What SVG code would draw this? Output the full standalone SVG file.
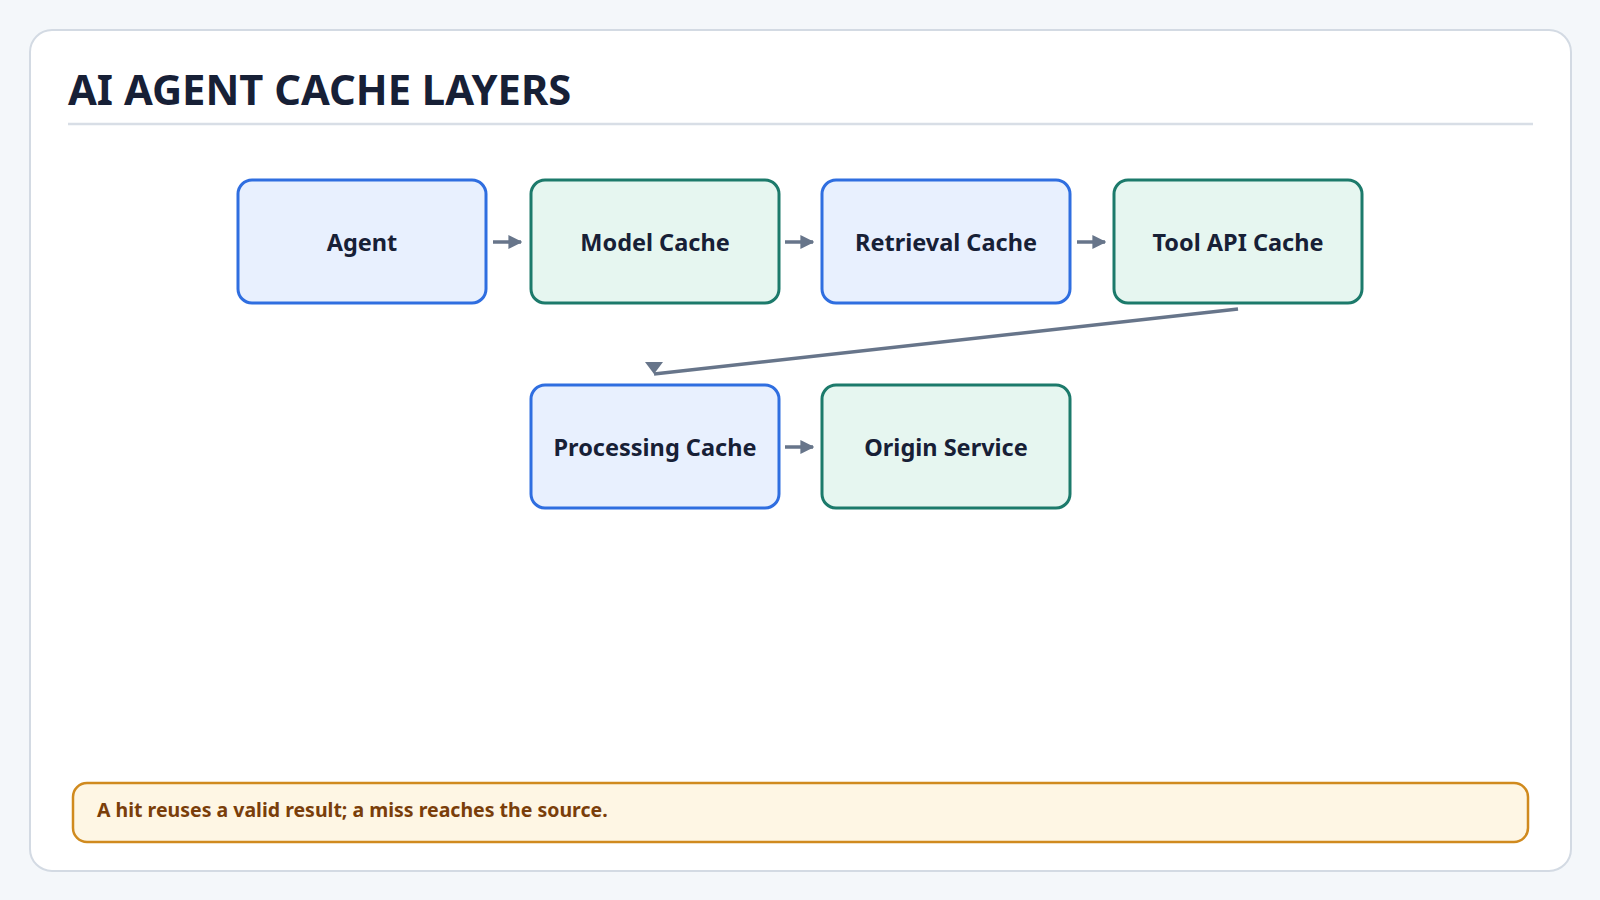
<svg xmlns="http://www.w3.org/2000/svg" width="1600" height="900" viewBox="0 0 1600 900">
<defs>
<style>
.t{font-family:"Noto Sans","Open Sans","Liberation Sans",sans-serif;font-weight:bold;fill:#172036}
.nb{fill:#e8f0fe;stroke:#2f6ee0;stroke-width:3}
.ng{fill:#e6f6f0;stroke:#1c7a6b;stroke-width:3}
.lbl{font-size:23.5px;text-anchor:middle;dominant-baseline:central}
.c{stroke:#67758a;stroke-width:3.5;fill:none}
</style>
<marker id="ah" viewBox="0 0 10 10" refX="9" refY="5" markerWidth="4" markerHeight="4" orient="auto"><path d="M0,0L10,5L0,10z" fill="#67758a"/></marker>
</defs>
<rect width="1600" height="900" fill="#f4f7fa"/>
<rect x="30" y="30" width="1541" height="841" rx="22" fill="#fff" stroke="#d3dae3" stroke-width="2"/>
<text class="t" x="68" y="105" font-size="41.7">AI AGENT CACHE LAYERS</text>
<line x1="68" y1="124" x2="1533" y2="124" stroke="#d8dee6" stroke-width="2.5"/>
<g id="connectors">
<path class="c" d="M493,242H521" marker-end="url(#ah)"/>
<path class="c" d="M785,242H813" marker-end="url(#ah)"/>
<path class="c" d="M1077,242H1105" marker-end="url(#ah)"/>
<path class="c" d="M785,447H813" marker-end="url(#ah)"/>
<path class="c" d="M1238,309L654,374"/>
<polygon points="645,362 663,362 654,374" fill="#67758a"/>
</g>
<g id="agent"><rect class="nb" x="238" y="180" width="248" height="123" rx="14"/><text class="t lbl" x="362" y="242">Agent</text></g>
<g id="model"><rect class="ng" x="531" y="180" width="248" height="123" rx="14"/><text class="t lbl" x="655" y="242">Model Cache</text></g>
<g id="retrieval"><rect class="nb" x="822" y="180" width="248" height="123" rx="14"/><text class="t lbl" x="946" y="242">Retrieval Cache</text></g>
<g id="tool"><rect class="ng" x="1114" y="180" width="248" height="123" rx="14"/><text class="t lbl" x="1238" y="242">Tool API Cache</text></g>
<g id="processing"><rect class="nb" x="531" y="385" width="248" height="123" rx="14"/><text class="t lbl" x="655" y="447">Processing Cache</text></g>
<g id="origin"><rect class="ng" x="822" y="385" width="248" height="123" rx="14"/><text class="t lbl" x="946" y="447">Origin Service</text></g>
<g id="note"><rect x="73" y="783" width="1455" height="59" rx="14" fill="#fef6e4" stroke="#d08a1e" stroke-width="2.5"/>
<text class="t" x="97" y="817" font-size="19.5" style="fill:#7a3e0a">A hit reuses a valid result; a miss reaches the source.</text></g>
</svg>
